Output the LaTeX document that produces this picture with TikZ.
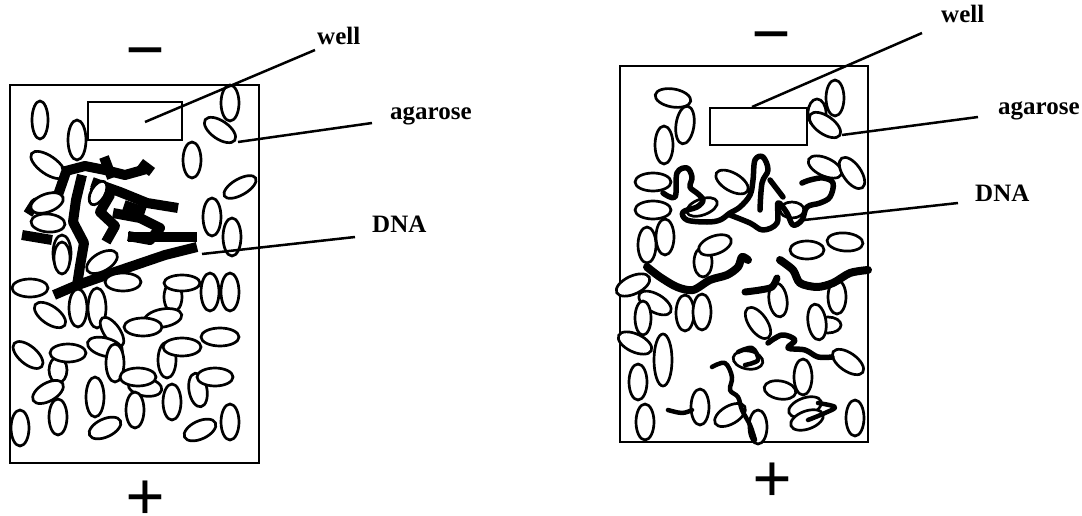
\documentclass[tikz,border=0pt]{standalone}
\usepackage{fontspec}
\setmainfont{Liberation Serif}
\usepackage{tikz}

\begin{document}
\begin{tikzpicture}[x=1pt,y=-1pt,
                    gel/.style={draw,line width=2.6pt},
                    bead/.style={draw,fill=white,line width=2.7pt},
                    clump/.style={line width=10pt,line join=round},
                    strand/.style={line width=5.5pt,line join=round,line cap=round},
                    lead/.style={line width=2.5pt},
                    tag/.style={font=\bfseries\fontsize{25}{25}\selectfont,inner sep=0pt,anchor=base west},
                    sign/.style={font=\bfseries\fontsize{70}{70}\selectfont,inner sep=0pt}]

  \useasboundingbox (0,0) rectangle (1082,516);

  % left gel: DNA stuck near the well
  \draw[gel] (10,85) rectangle (259,463);
  \draw[gel] (88,102) rectangle (182,140);

  \draw[bead] (40,120) ellipse [x radius=8,y radius=19];
  \draw[bead] (77,140) ellipse [x radius=9,y radius=20];
  \draw[bead] (230,103) ellipse [x radius=9,y radius=18];
  \draw[bead,rotate around={-35:(220,130)}] (220,130) ellipse [x radius=18,y radius=9];
  \draw[bead] (192,160) ellipse [x radius=9,y radius=18];
  \draw[bead,rotate around={-35:(48,165)}] (48,165) ellipse [x radius=20,y radius=9];
  \draw[bead,rotate around={30:(240,187)}] (240,187) ellipse [x radius=18,y radius=8];
  \draw[bead] (212,217) ellipse [x radius=9,y radius=19];
  \draw[bead] (232,237) ellipse [x radius=9,y radius=19];
  \draw[bead] (62,253) ellipse [x radius=9,y radius=18];

  \draw[clump] (62,172) -- (85,166) -- (105,170) -- (125,175) -- (150,168);
  \draw[clump] (104,157) -- (112,178);
  \draw[clump] (140,163) -- (152,172);
  \draw[clump] (66,172) -- (58,195) -- (35,203) -- (28,214);
  \draw[clump] (82,175) -- (76,200) -- (73,222) -- (84,243) -- (80,266) -- (76,292);
  \draw[clump] (22,235) -- (52,240);
  \draw[clump] (92,182) -- (120,192) -- (147,203) -- (178,208);
  \draw[clump] (92,185) -- (110,195) -- (100,212) -- (115,226) -- (106,242);
  \draw[clump] (113,213) -- (140,218) -- (160,228) -- (150,240) -- (128,236);
  \draw[clump] (124,205) -- (145,212);
  \draw[clump] (128,237) -- (197,237);
  \draw[clump] (54,295) -- (75,286) -- (115,272) -- (165,255) -- (197,247);

  \draw[bead,rotate around={60:(98,193)}] (98,193) ellipse [x radius=13,y radius=7];
  \draw[bead,rotate around={20:(47,203)}] (47,203) ellipse [x radius=17,y radius=9];
  \draw[bead,rotate around={-5:(48,223)}] (48,223) ellipse [x radius=17,y radius=9];
  \draw[bead] (62,258) ellipse [x radius=8,y radius=16];
  \draw[bead,rotate around={30:(102,262)}] (102,262) ellipse [x radius=17,y radius=9];

  \draw[bead] (30,288) ellipse [x radius=18,y radius=9];
  \draw[bead] (123,282) ellipse [x radius=18,y radius=9];
  \draw[bead] (173,297) ellipse [x radius=9,y radius=15];
  \draw[bead] (182,283) ellipse [x radius=18,y radius=8];
  \draw[bead] (210,292) ellipse [x radius=9,y radius=19];
  \draw[bead] (230,292) ellipse [x radius=9,y radius=19];
  \draw[bead,rotate around={-35:(50,315)}] (50,315) ellipse [x radius=18,y radius=9];
  \draw[bead] (78,308) ellipse [x radius=9,y radius=19];
  \draw[bead] (97,308) ellipse [x radius=9,y radius=20];
  \draw[bead,rotate around={-55:(112,332)}] (112,332) ellipse [x radius=17,y radius=8];
  \draw[bead,rotate around={10:(163,318)}] (163,318) ellipse [x radius=19,y radius=9];
  \draw[bead] (143,327) ellipse [x radius=19,y radius=9];
  \draw[bead] (220,337) ellipse [x radius=19,y radius=9];
  \draw[bead,rotate around={-40:(28,355)}] (28,355) ellipse [x radius=18,y radius=9];
  \draw[bead] (58,370) ellipse [x radius=9,y radius=13];
  \draw[bead,rotate around={-15:(105,347)}] (105,347) ellipse [x radius=18,y radius=9];
  \draw[bead] (68,353) ellipse [x radius=18,y radius=9];
  \draw[bead] (115,363) ellipse [x radius=9,y radius=19];
  \draw[bead] (167,360) ellipse [x radius=9,y radius=18];
  \draw[bead] (182,347) ellipse [x radius=19,y radius=9];
  \draw[bead,rotate around={30:(48,392)}] (48,392) ellipse [x radius=17,y radius=9];
  \draw[bead,rotate around={-10:(145,387)}] (145,387) ellipse [x radius=17,y radius=9];
  \draw[bead] (138,377) ellipse [x radius=18,y radius=9];
  \draw[bead,rotate around={10:(198,390)}] (198,390) ellipse [x radius=9,y radius=17];
  \draw[bead] (215,377) ellipse [x radius=18,y radius=9];
  \draw[bead] (95,397) ellipse [x radius=9,y radius=20];
  \draw[bead] (172,402) ellipse [x radius=9,y radius=18];
  \draw[bead] (135,410) ellipse [x radius=9,y radius=18];
  \draw[bead] (58,417) ellipse [x radius=9,y radius=18];
  \draw[bead] (20,428) ellipse [x radius=9,y radius=18];
  \draw[bead,rotate around={25:(105,428)}] (105,428) ellipse [x radius=17,y radius=9];
  \draw[bead,rotate around={25:(200,430)}] (200,430) ellipse [x radius=17,y radius=9];
  \draw[bead] (230,422) ellipse [x radius=9,y radius=18];

  \node[sign] (minusL) at (145,61) {−};
  \node[sign] (plusL) at (145,501) {+};

  \node[tag] (wellL) at (317,45) {well};
  \node[tag] (agarL) at (390,120) {agarose};
  \node[tag] (dnaL) at (372,233) {DNA};
  \coordinate (wellLtip) at (145,122);
  \coordinate (agarLtip) at (238,142);
  \coordinate (dnaLtip) at (202,254);
  \draw[lead] (wellLtip) -- ([xshift=-2pt,yshift=-5pt]wellL.base west);
  \draw[lead] (agarLtip) -- ([xshift=-18pt,yshift=-3pt]agarL.base west);
  \draw[lead] (dnaLtip) -- ([xshift=-17pt,yshift=-4pt]dnaL.base west);

  % right gel: DNA strands worked through the agarose
  \draw[gel] (620,66) rectangle (868,442);
  \draw[gel] (710,108) rectangle (807,145);

  \draw[bead,rotate around={-10:(673,98)}] (673,98) ellipse [x radius=18,y radius=9];
  \draw[bead,rotate around={-8:(685,125)}] (685,125) ellipse [x radius=9,y radius=19];
  \draw[bead] (664,145) ellipse [x radius=9,y radius=19];
  \draw[bead] (835,98) ellipse [x radius=9,y radius=18];
  \draw[bead] (817,113) ellipse [x radius=9,y radius=14];
  \draw[bead,rotate around={-35:(825,125)}] (825,125) ellipse [x radius=18,y radius=9];
  \draw[bead] (653,182) ellipse [x radius=18,y radius=9];
  \draw[bead] (653,210) ellipse [x radius=18,y radius=9];
  \draw[bead] (647,245) ellipse [x radius=9,y radius=18];
  \draw[bead] (665,237) ellipse [x radius=9,y radius=18];
  \draw[bead,rotate around={-30:(732,182)}] (732,182) ellipse [x radius=18,y radius=9];
  \draw[bead,rotate around={-25:(825,167)}] (825,167) ellipse [x radius=18,y radius=9];
  \draw[bead,rotate around={-55:(852,173)}] (852,173) ellipse [x radius=18,y radius=9];
  \draw[bead,rotate around={20:(702,207)}] (702,207) ellipse [x radius=16,y radius=8];
  \draw[bead] (792,210) ellipse [x radius=12,y radius=8];
  \draw[bead,rotate around={-5:(845,242)}] (845,242) ellipse [x radius=18,y radius=9];
  \draw[bead] (807,250) ellipse [x radius=17,y radius=9];
  \draw[bead] (703,262) ellipse [x radius=9,y radius=15];
  \draw[bead,rotate around={20:(715,245)}] (715,245) ellipse [x radius=17,y radius=9];
  \draw[bead,rotate around={25:(633,285)}] (633,285) ellipse [x radius=18,y radius=9];
  \draw[bead,rotate around={-30:(655,303)}] (655,303) ellipse [x radius=18,y radius=9];
  \draw[bead] (643,318) ellipse [x radius=8,y radius=17];
  \draw[bead] (685,313) ellipse [x radius=9,y radius=18];
  \draw[bead] (702,312) ellipse [x radius=9,y radius=18];
  \draw[bead,rotate around={8:(778,300)}] (778,300) ellipse [x radius=9,y radius=17];
  \draw[bead,rotate around={-55:(758,323)}] (758,323) ellipse [x radius=18,y radius=9];
  \draw[bead] (828,325) ellipse [x radius=13,y radius=8];
  \draw[bead,rotate around={8:(817,322)}] (817,322) ellipse [x radius=9,y radius=18];
  \draw[bead] (837,297) ellipse [x radius=9,y radius=17];
  \draw[bead,rotate around={-25:(635,343)}] (635,343) ellipse [x radius=18,y radius=9];
  \draw[bead] (663,360) ellipse [x radius=9,y radius=26];
  \draw[bead] (638,382) ellipse [x radius=9,y radius=18];
  \draw[bead,rotate around={-35:(848,362)}] (848,362) ellipse [x radius=18,y radius=9];
  \draw[bead,rotate around={-10:(748,360)}] (748,360) ellipse [x radius=15,y radius=9];
  \draw[bead,rotate around={-10:(780,390)}] (780,390) ellipse [x radius=16,y radius=9];
  \draw[bead] (803,377) ellipse [x radius=9,y radius=18];
  \draw[bead,rotate around={20:(805,407)}] (805,407) ellipse [x radius=17,y radius=9];
  \draw[bead,rotate around={20:(807,420)}] (807,420) ellipse [x radius=17,y radius=9];
  \draw[bead] (700,407) ellipse [x radius=9,y radius=18];
  \draw[bead,rotate around={30:(730,415)}] (730,415) ellipse [x radius=17,y radius=9];
  \draw[bead] (758,427) ellipse [x radius=9,y radius=17];
  \draw[bead] (645,422) ellipse [x radius=9,y radius=18];
  \draw[bead] (855,418) ellipse [x radius=9,y radius=18];

  \draw[strand] plot[smooth,tension=0.6] coordinates {(663,193) (675,197) (677,173) (687,168) (692,177) (690,187) (697,193) (703,200) (697,207) (683,212) (687,220) (707,222) (720,220) (730,213) (740,207) (750,195) (753,180) (755,160) (763,157) (768,170) (762,183) (760,210)};
  \draw[strand] plot[smooth,tension=0.6] coordinates {(730,215) (750,223) (763,230) (777,223) (778,203) (787,213) (793,225) (802,220) (807,207) (820,203) (830,197) (833,183) (823,178) (810,180) (802,183)};
  \draw[strand] (770,180) -- (783,197);
  \draw[strand,line width=8pt] plot[smooth,tension=0.5] coordinates {(647,267) (660,277) (677,287) (693,290) (710,280) (727,275) (738,267) (742,257) (748,260)};
  \draw[strand,line width=7pt] plot[smooth,tension=0.5] coordinates {(745,292) (760,290) (772,287) (777,278)};
  \draw[strand,line width=8pt] plot[smooth,tension=0.5] coordinates {(780,260) (793,270) (800,283) (817,287) (833,283) (850,273) (868,270)};
  \draw[strand] plot[smooth,tension=0.6] coordinates {(768,343) (782,335) (795,340) (788,348) (805,350) (818,357) (832,357)};
  \draw[strand,line width=4.5pt] plot[smooth,tension=0.6] coordinates {(712,367) (725,363) (732,377) (730,390) (738,397) (742,410) (750,425) (755,440)};
  \draw[strand,line width=4.5pt] plot[smooth,tension=0.6] coordinates {(738,352) (752,348) (758,360) (745,365)};
  \draw[strand,line width=4.5pt] plot[smooth,tension=0.6] coordinates {(668,410) (682,413) (692,410)};
  \draw[strand,line width=4.5pt] plot[smooth,tension=0.6] coordinates {(818,403) (835,407) (825,413) (808,420)};

  \node[sign] (minusR) at (771,45) {−};
  \node[sign] (plusR) at (772,483) {+};

  \node[tag] (wellR) at (941,23) {well};
  \node[tag] (agarR) at (998,115) {agarose};
  \node[tag] (dnaR) at (975,201) {DNA};
  \coordinate (wellRtip) at (752,107);
  \coordinate (agarRtip) at (842,135);
  \coordinate (dnaRtip) at (804,220);
  \draw[lead] (wellRtip) -- ([xshift=-19pt,yshift=-10pt]wellR.base west);
  \draw[lead] (agarRtip) -- ([xshift=-20pt,yshift=-2pt]agarR.base west);
  \draw[lead] (dnaRtip) -- ([xshift=-17pt,yshift=-2pt]dnaR.base west);
\end{tikzpicture}
\end{document}
